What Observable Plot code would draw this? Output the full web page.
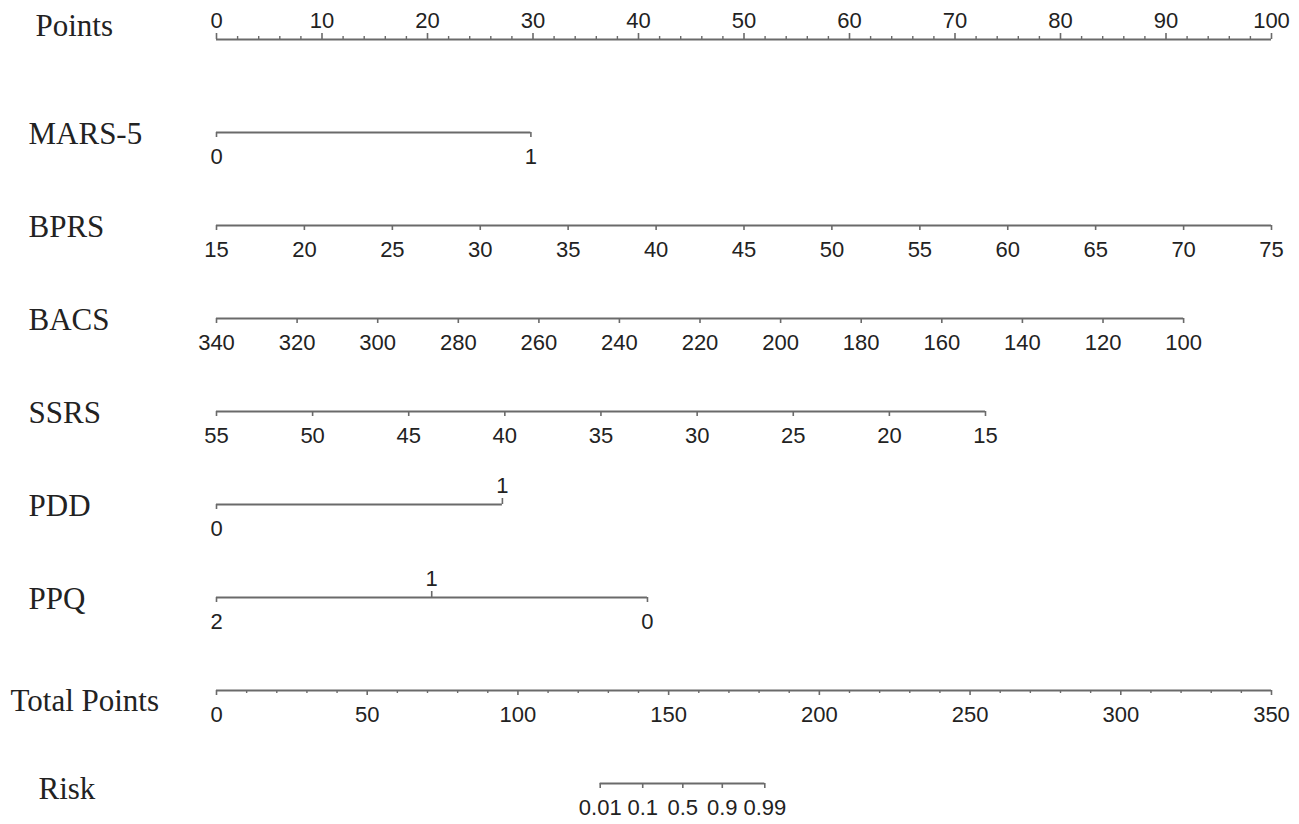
<!DOCTYPE html>
<html><head><meta charset="utf-8">
<script src="https://cdn.jsdelivr.net/npm/d3@7"></script>
<script src="https://cdn.jsdelivr.net/npm/@observablehq/plot@0.6"></script>
<style>body{margin:0;background:#fff}</style>
</head><body><div id="chart"></div>
<script>
// Row names (top to bottom)
const rowNames = ["Points","MARS-5","BPRS","BACS","SSRS","PDD","PPQ","Total Points","Risk"];

// Points scale
const pointsTicks = [0,10,20,30,40,50,60,70,80,90,100];
const pointsMinorStep = 2;

// Predictor scales: tick labels and their position in points
const mars5Labels = ["0","1"];
const mars5Points = [0, 29.8];
const mars5Sides = ["below","below"];

const bprsLabels = ["15","20","25","30","35","40","45","50","55","60","65","70","75"];
const bprsPoints = [0, 8.33, 16.67, 25, 33.33, 41.67, 50, 58.33, 66.67, 75, 83.33, 91.67, 100];

const bacsLabels = ["340","320","300","280","260","240","220","200","180","160","140","120","100"];
const bacsPoints = [0, 7.64, 15.28, 22.92, 30.56, 38.19, 45.83, 53.47, 61.11, 68.75, 76.39, 84.03, 91.67];

const ssrsLabels = ["55","50","45","40","35","30","25","20","15"];
const ssrsPoints = [0, 9.11, 18.22, 27.33, 36.44, 45.56, 54.67, 63.78, 72.89];

const pddLabels = ["0","1"];
const pddPoints = [0, 27.1];
const pddSides = ["below","above"];

const ppqLabels = ["2","1","0"];
const ppqPoints = [0, 20.4, 40.85];
const ppqSides = ["below","above","below"];

// Total points scale
const totalTicks = [0,50,100,150,200,250,300,350];
const totalMax = 350;
const totalMinorStep = 10;

// Risk scale: labels and their total-points positions
const riskLabels = ["0.01","0.1","0.5","0.9","0.99"];
const riskTotals = [127.3, 141.4, 154.7, 167.8, 181.9];

// ---- build tables ----
const toPts = t => t * 100 / totalMax;
function rowTable(row, labels, xs, sides) {
  return labels.map((l, i) => ({row, label: String(l), x: xs[i], side: sides ? sides[i] : "below"}));
}
const majors = [
  ...rowTable("Points", pointsTicks, pointsTicks, pointsTicks.map(() => "above")),
  ...rowTable("MARS-5", mars5Labels, mars5Points, mars5Sides),
  ...rowTable("BPRS", bprsLabels, bprsPoints),
  ...rowTable("BACS", bacsLabels, bacsPoints),
  ...rowTable("SSRS", ssrsLabels, ssrsPoints),
  ...rowTable("PDD", pddLabels, pddPoints, pddSides),
  ...rowTable("PPQ", ppqLabels, ppqPoints, ppqSides),
  ...rowTable("Total Points", totalTicks, totalTicks.map(toPts)),
  ...rowTable("Risk", riskLabels, riskTotals.map(toPts))
];
const lines = rowNames.map(row => {
  const xs = majors.filter(d => d.row === row).map(d => d.x);
  return {row, x1: d3.min(xs), x2: d3.max(xs)};
});
const pointsMinor = d3.range(0, 100 + 1e-9, pointsMinorStep).filter(v => !pointsTicks.includes(v)).map(v => ({row: "Points", x: v}));
const totalMinor = d3.range(0, totalMax + 1e-9, totalMinorStep).filter(v => !totalTicks.includes(v)).map(v => ({row: "Total Points", x: toPts(v)}));

const above = majors.filter(d => d.side === "above");
const below = majors.filter(d => d.side === "below");

const lineColor = "#6a6a6a";
const serif = "'Liberation Serif', 'Times New Roman', serif";
const sans = "'Liberation Sans', Arial, sans-serif";
const mainLabels = rowNames.filter(r => !["Points","Total Points","Risk"].includes(r));

const chart = Plot.plot({
  width: 1299,
  height: 824,
  marginLeft: 216,
  marginRight: 28,
  marginTop: 0,
  marginBottom: 0,
  x: {domain: [0, 100], axis: null},
  y: {type: "point", domain: rowNames, range: [39, 783], padding: 0, axis: null},
  style: {fontFamily: sans, fontSize: "22px", color: "#222", background: "#fff"},
  marks: [
    Plot.ruleY(lines, {y: "row", x1: "x1", x2: "x2", stroke: lineColor, strokeWidth: 2}),
    Plot.ruleX(below, {x: "x", y1: "row", y2: "row", insetTop: 0, insetBottom: -5, stroke: lineColor, strokeWidth: 1.6}),
    Plot.ruleX(above, {x: "x", y1: "row", y2: "row", insetTop: -6, insetBottom: 0, stroke: lineColor, strokeWidth: 1.6}),
    Plot.ruleX(pointsMinor, {x: "x", y1: "row", y2: "row", insetTop: -3, insetBottom: 0, stroke: lineColor, strokeWidth: 1.4}),
    Plot.ruleX(totalMinor, {x: "x", y1: "row", y2: "row", insetTop: 0, insetBottom: -3, stroke: lineColor, strokeWidth: 1.4}),
    Plot.text(below, {x: "x", y: "row", text: "label", dy: 24, fill: "#222", fontFamily: sans, fontSize: 22}),
    Plot.text(above, {x: "x", y: "row", text: "label", dy: -19, fill: "#222", fontFamily: sans, fontSize: 22}),
    Plot.text(mainLabels, {y: d => d, text: d => d, frameAnchor: "left", dx: -188, dy: 2, textAnchor: "start", fill: "#222", fontFamily: serif, fontSize: 31}),
    Plot.text(["Points"], {y: d => d, text: d => d, frameAnchor: "left", dx: -181, dy: -13, textAnchor: "start", fill: "#222", fontFamily: serif, fontSize: 31}),
    Plot.text(["Total Points"], {y: d => d, text: d => d, frameAnchor: "left", dx: -206, dy: 11, textAnchor: "start", fill: "#222", fontFamily: serif, fontSize: 31}),
    Plot.text(["Risk"], {y: d => d, text: d => d, frameAnchor: "left", dx: -178, dy: 6, textAnchor: "start", fill: "#222", fontFamily: serif, fontSize: 31})
  ]
});
document.getElementById("chart").appendChild(chart);
</script>
</body></html>
